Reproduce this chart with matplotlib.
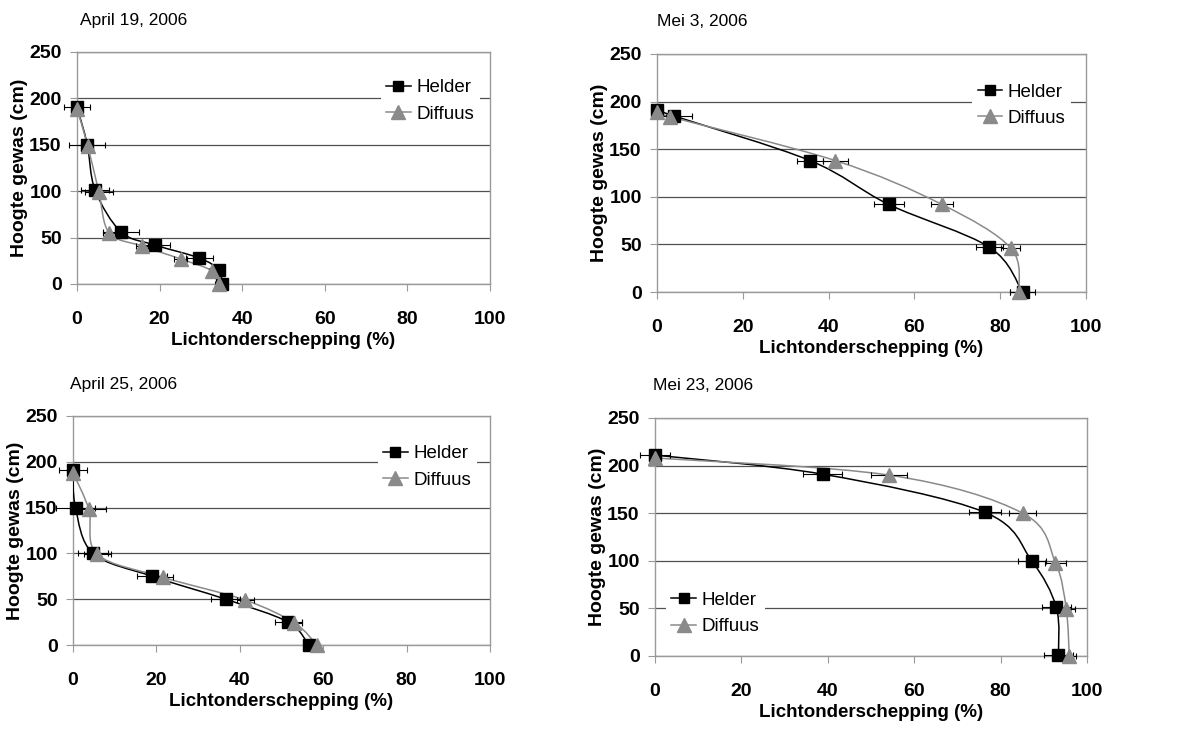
import matplotlib
matplotlib.use('Agg')
import matplotlib.pyplot as plt
from matplotlib.path import Path
from matplotlib.patches import PathPatch
from matplotlib.lines import Line2D
import numpy as np

plt.rcParams['font.family'] = ['Liberation Sans', 'DejaVu Sans']

# --------------------------------------------------
# data
# --------------------------------------------------
titles = ["April 19, 2006", "Mei 3, 2006", "April 25, 2006", "Mei 23, 2006"]

helder_x = [
    [0, 2.5, 4.4, 10.7, 18.9, 29.6, 34.4, 35.0],
    [0, 3.9, 35.7, 54.0, 77.5, 85.2],
    [0, 0.6, 4.8, 19.0, 36.6, 51.6, 56.5],
    [0, 38.8, 76.3, 87.2, 92.9, 93.4],
]
helder_y = [
    [191, 150, 101, 56, 42, 28, 15, 0],
    [191, 185, 138, 92, 47, 0],
    [191, 150, 100, 75, 50, 25, 0],
    [211, 191, 151, 100, 51, 1],
]
helder_err = [
    [3.2, 4.4, 3.4, 4.4, 3.5, 3.3, 0.8, 0.8],
    [1.5, 4.2, 3.1, 3.5, 3.2, 3.0],
    [3.3, 4.6, 3.6, 3.6, 3.5, 3.2, 0.5],
    [3.4, 4.6, 3.7, 3.2, 3.3, 3.3],
]
diffuus_x = [
    [0, 2.6, 5.3, 7.8, 15.7, 25.1, 32.8, 34.3],
    [0, 3.1, 41.6, 66.4, 82.5, 84.4],
    [0, 3.8, 5.8, 21.5, 41.3, 53.1, 58.5],
    [0, 54.2, 85.1, 92.7, 95.2, 95.9],
]
diffuus_y = [
    [189, 149, 99, 55, 41, 27, 14, 0],
    [189, 184, 138, 92, 46, 0],
    [188, 148, 99, 74, 49, 24, 0],
    [208, 190, 150, 98, 49, 0],
]
diffuus_err = [
    [1.0, 1.0, 3.3, 1.5, 1.5, 1.5, 0.8, 0.8],
    [1.0, 1.0, 3.0, 2.6, 2.2, 2.0],
    [1.0, 4.0, 3.2, 2.5, 2.0, 1.8, 0.5],
    [1.5, 4.1, 3.2, 2.4, 2.0, 1.6],
]

# --------------------------------------------------
# layout
# --------------------------------------------------
W, H = 1195, 733
axes_px = [(77, 490, 52, 284), (657, 1086, 54, 292),
           (73, 490, 416, 645), (655, 1087, 418, 656)]
title_px = [(80, 21), (657, 21), (70, 385), (653, 385)]
legend_loc = [("upper right", (0.975, 0.907)), ("upper right", (0.965, 0.90)),
              ("upper right", (0.968, 0.898)), ("lower left", (0.025, 0.063))]

GRID = '#505050'
FRAME = '#9a9a9a'
GRAY = '#8a8a8a'


def smooth_path(xs, ys):
    # Excel-style smoothed line: cubic bezier through the data points
    pts = np.column_stack([xs, ys]).astype(float)
    n = len(pts)
    verts = [pts[0]]
    codes = [Path.MOVETO]
    for i in range(n - 1):
        p0 = pts[i - 1] if i > 0 else pts[i]
        p1 = pts[i]
        p2 = pts[i + 1]
        p3 = pts[i + 2] if i + 2 < n else pts[i + 1]
        c1 = p1 + (p2 - p0) / 6.0
        c2 = p2 - (p3 - p1) / 6.0
        verts += [c1, c2, p2]
        codes += [Path.CURVE4] * 3
    return Path(verts, codes)


fig = plt.figure(figsize=(W / 100, H / 100), dpi=100)

for k in range(4):
    l, r, t, b = axes_px[k]
    ax = fig.add_axes([l / W, 1 - b / H, (r - l) / W, (b - t) / H])
    ax.set_xlim(0, 100)
    ax.set_ylim(0, 250)
    ax.set_xticks(range(0, 101, 20))
    ax.set_yticks(range(0, 251, 50))
    ax.yaxis.grid(True, color=GRID, lw=0.9)
    ax.set_axisbelow(True)
    for s in ax.spines.values():
        s.set_color(FRAME)
        s.set_linewidth(1.0)
    ax.tick_params(axis='x', direction='out', length=5, color=FRAME, pad=14.5,
                   labelsize=14)
    ax.tick_params(axis='y', direction='out', length=5, color=FRAME, pad=6,
                   labelsize=14)
    for lab in ax.get_xticklabels() + ax.get_yticklabels():
        lab.set_fontweight('bold')
    ax.set_xlabel('Lichtonderschepping (%)', fontsize=13.5, fontweight='bold', labelpad=2.5)
    ax.set_ylabel('Hoogte gewas (cm)', fontsize=14, fontweight='bold', labelpad=1)

    # smoothed lines
    ax.add_patch(PathPatch(smooth_path(helder_x[k], helder_y[k]), fill=False,
                           edgecolor='black', lw=1.1, zorder=3))
    ax.add_patch(PathPatch(smooth_path(diffuus_x[k], diffuus_y[k]), fill=False,
                           edgecolor=GRAY, lw=1.1, zorder=3))

    # error bars
    ax.errorbar(helder_x[k], helder_y[k], xerr=helder_err[k], fmt='none',
                ecolor='black', elinewidth=0.8, capsize=2.5, capthick=0.8,
                zorder=4, clip_on=False)
    ax.errorbar(diffuus_x[k], diffuus_y[k], xerr=diffuus_err[k], fmt='none',
                ecolor='black', elinewidth=0.8, capsize=2.5, capthick=0.8,
                zorder=4, clip_on=False)

    # markers
    ax.plot(helder_x[k], helder_y[k], ls='none', marker='s', ms=8,
            color='black', zorder=5, clip_on=False)
    ax.plot(diffuus_x[k], diffuus_y[k], ls='none', marker='^', ms=10.5,
            color=GRAY, zorder=6, clip_on=False)

    handles = [Line2D([], [], color='black', lw=1.1, marker='s', ms=7.5),
               Line2D([], [], color=GRAY, lw=1.1, marker='^', ms=10)]
    loc, anchor = legend_loc[k]
    leg = ax.legend(handles, ['Helder', 'Diffuus'], loc=loc, bbox_to_anchor=anchor,
                    fontsize=13.5, frameon=True, fancybox=False, framealpha=1,
                    handlelength=1.3, handletextpad=0.3, labelspacing=0.5,
                    borderpad=0.3, borderaxespad=0)
    leg.get_frame().set_facecolor('white')
    leg.get_frame().set_edgecolor('none')
    leg.set_zorder(7)

    tx, ty = title_px[k]
    fig.text(tx / W, 1 - ty / H, titles[k], fontsize=12.5, ha='left', va='center')

fig.savefig('out.png', dpi=100)
